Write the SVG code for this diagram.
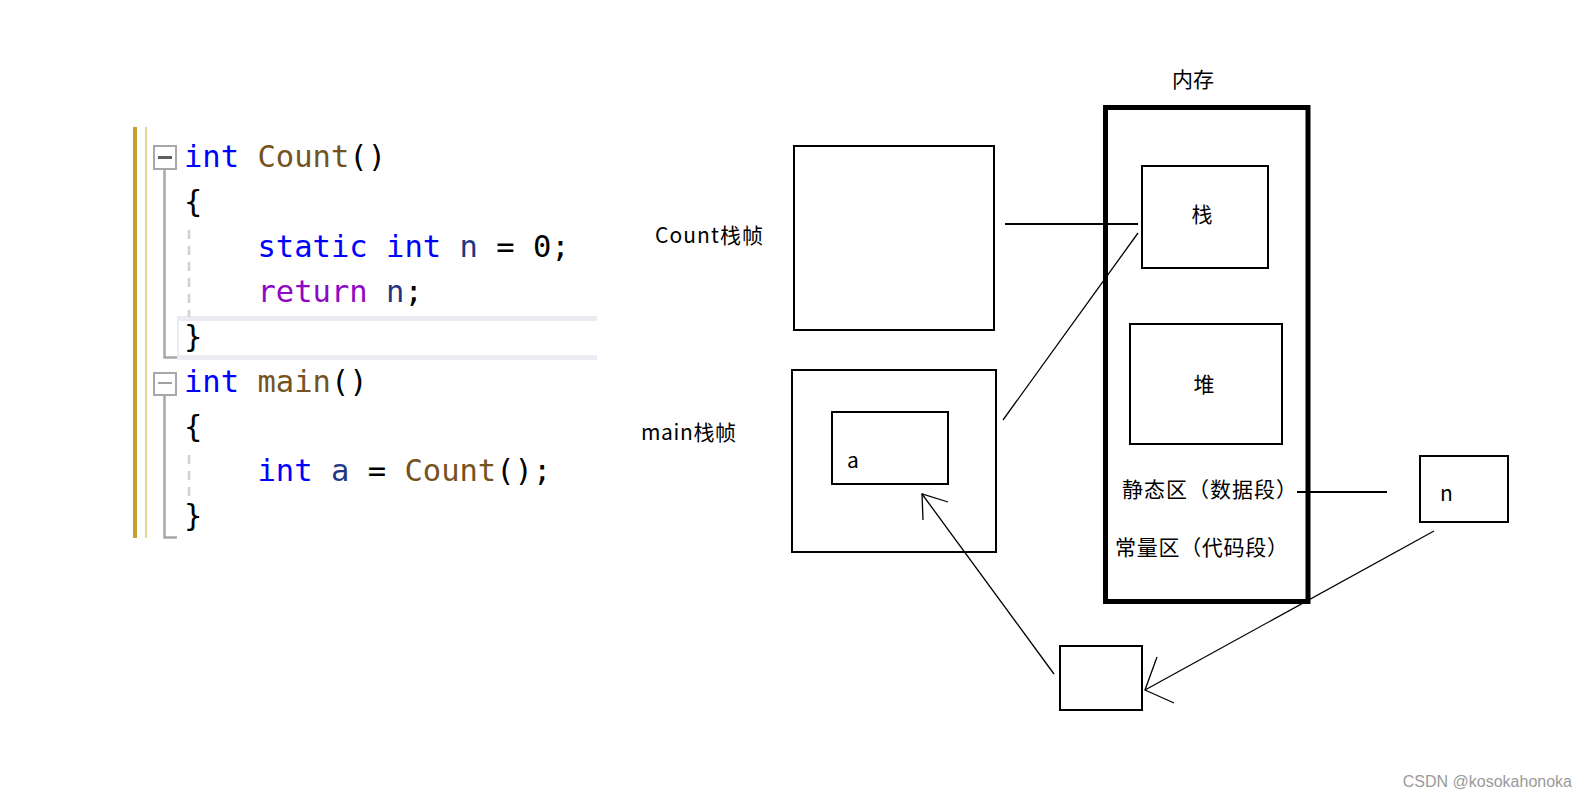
<svg xmlns="http://www.w3.org/2000/svg" width="1592" height="799" viewBox="0 0 1592 799">
<style>
.code{font-family:"DejaVu Sans Mono","Liberation Mono",monospace;font-size:30.5px;white-space:pre}
.kw{fill:#0000ff}.fn{fill:#74531f}.ret{fill:#8f08c4}.var{fill:#1f377f}.pun{fill:#000}
.lbl{font-family:"Noto Sans CJK SC","Noto Sans",sans-serif;font-size:21px;fill:#000}
.box{fill:none;stroke:#000;stroke-width:2}
.thin{fill:none;stroke:#000;stroke-width:1.3}
.mid{fill:none;stroke:#000;stroke-width:2}
</style>
<rect width="1592" height="799" fill="#fff"/>

<g id="code-editor">
  <rect x="133" y="127" width="4" height="411" fill="#c4a030"/>
  <rect x="145" y="127" width="2" height="411" fill="#e6d49a"/>
  <rect x="177" y="316" width="420" height="5" fill="#ebebf3"/>
  <rect x="177" y="355" width="420" height="5" fill="#ebebf3"/>
  <rect x="177" y="316" width="2" height="44" fill="#ebebf3"/>
  <path d="M164.5 170 V357.5 H177" fill="none" stroke="#a8a8a8" stroke-width="2.5"/>
  <path d="M164.5 395 V537.5 H177" fill="none" stroke="#a8a8a8" stroke-width="2.5"/>
  <rect x="154" y="146" width="22" height="23" fill="#fff" stroke="#a8a8a8" stroke-width="2"/>
  <rect x="158" y="156" width="14" height="3" fill="#606060"/>
  <rect x="154" y="373" width="22" height="22" fill="#fff" stroke="#a8a8a8" stroke-width="2"/>
  <rect x="158" y="382" width="14" height="2" fill="#a0a0a0"/>
  <line x1="189" y1="230" x2="189" y2="317" stroke="#d4d4d4" stroke-width="2.7" stroke-dasharray="9 7"/>
  <line x1="189" y1="455" x2="189" y2="498" stroke="#d4d4d4" stroke-width="2.7" stroke-dasharray="9 7"/>
  <text class="code" xml:space="preserve" x="184" y="167"><tspan class="kw">int</tspan> <tspan class="fn">Count</tspan><tspan class="pun">()</tspan></text>
  <text class="code pun" xml:space="preserve" x="184" y="212">{</text>
  <text class="code" xml:space="preserve" x="184" y="257">    <tspan class="kw">static</tspan> <tspan class="kw">int</tspan> <tspan class="var">n</tspan> <tspan class="pun">=</tspan> <tspan class="pun">0;</tspan></text>
  <text class="code" xml:space="preserve" x="184" y="302">    <tspan class="ret">return</tspan> <tspan class="var">n</tspan><tspan class="pun">;</tspan></text>
  <text class="code pun" xml:space="preserve" x="184" y="347">}</text>
  <text class="code" xml:space="preserve" x="184" y="392"><tspan class="kw">int</tspan> <tspan class="fn">main</tspan><tspan class="pun">()</tspan></text>
  <text class="code pun" xml:space="preserve" x="184" y="437">{</text>
  <text class="code" xml:space="preserve" x="184" y="481">    <tspan class="kw">int</tspan> <tspan class="var">a</tspan> <tspan class="pun">=</tspan> <tspan class="fn">Count</tspan><tspan class="pun">();</tspan></text>
  <text class="code pun" xml:space="preserve" x="184" y="526">}</text>
</g>

<g id="count-frame">
  <rect class="box" x="794" y="146" width="200" height="184"/>
  <text class="lbl" x="655" y="243" textLength="108" lengthAdjust="spacing">Count栈帧</text>
</g>

<g id="main-frame">
  <rect class="box" x="792" y="370" width="204" height="182"/>
  <text class="lbl" x="641" y="440" textLength="95" lengthAdjust="spacing">main栈帧</text>
</g>

<g id="var-a">
  <rect class="box" x="832" y="412" width="116" height="72"/>
  <text class="lbl" x="847" y="468" font-size="17">a</text>
</g>

<g id="memory">
  <rect x="1105.5" y="107.5" width="202.5" height="494" fill="none" stroke="#000" stroke-width="5"/>
  <text class="lbl" x="1193" y="87" text-anchor="middle">内存</text>
</g>

<g id="stack">
  <rect class="box" x="1142" y="166" width="126" height="102"/>
  <text class="lbl" x="1202" y="222" text-anchor="middle">栈</text>
</g>

<g id="heap">
  <rect class="box" x="1130" y="324" width="152" height="120"/>
  <text class="lbl" x="1204" y="392" text-anchor="middle">堆</text>
</g>

<g id="static-area">
  <text class="lbl" x="1122" y="497" textLength="175" lengthAdjust="spacing">静态区（数据段）</text>
</g>

<g id="const-area">
  <text class="lbl" x="1115" y="555" textLength="173" lengthAdjust="spacing">常量区（代码段）</text>
</g>

<g id="var-n">
  <rect class="box" x="1420" y="456" width="88" height="66"/>
  <text class="lbl" x="1440" y="501" font-size="17">n</text>
</g>

<g id="return-box">
  <rect class="box" x="1060" y="646" width="82" height="64"/>
</g>

<g id="connectors">
  <line class="mid" x1="1005" y1="224" x2="1138" y2="224"/>
  <line class="thin" x1="1003" y1="420" x2="1138" y2="233"/>
  <line class="mid" x1="1297" y1="492" x2="1387" y2="492"/>
  <line class="thin" x1="1054" y1="674" x2="922" y2="494"/>
  <polyline class="thin" points="948,502 922,494 923,520"/>
  <line class="thin" x1="1434" y1="531" x2="1145" y2="690"/>
  <polyline class="thin" points="1157,657 1145,690 1174,703"/>
</g>

<text x="1572" y="787" text-anchor="end" font-family="Liberation Sans, Arial, sans-serif" font-size="16" fill="#9a9a9a">CSDN @kosokahonoka</text>
</svg>
